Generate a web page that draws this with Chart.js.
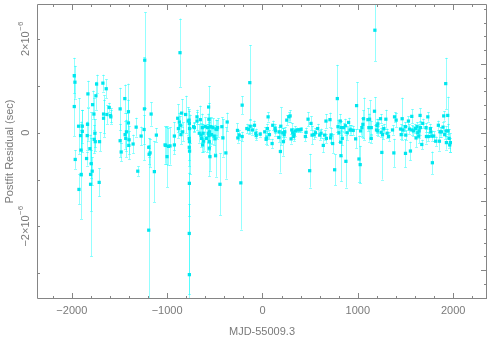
<!DOCTYPE html>
<html>
<head>
<meta charset="utf-8">
<script src="https://cdn.jsdelivr.net/npm/chart.js@4.4.0/dist/chart.umd.min.js"></script>
<style>
  html, body { margin: 0; padding: 0; background: #fff; }
  #wrap { width: 491px; height: 340px; }
</style>
</head>
<body>
<div id="wrap"><canvas id="plot"></canvas></div>
<script>
// Days relative to MJD 55009.3
const mjd = [
  -1974, -1967, -1974, -1964, -1929, -1925, -1908, -1904, -1901, -1890,
  -1890, -1845, -1838, -1835, -1831, -1810, -1803, -1803, -1796, -1786,
  -1782, -1768, -1765, -1758, -1754, -1747, -1740, -1709, -1713, -1674,
  -1667, -1667, -1639, -1632, -1608, -1594, -1591, -1493, -1493, -1482,
  -1444, -1441, -1434, -1427, -1406, -1406, -1402, -1399, -1357, -1325,
  -1308, -1273, -1242, -1235, -1238, -1193, -1189, -1179, -1193, -1168,
  -1134, -1113, -1022, -1015, -1001, -987, -970, -924, -924, -889,
  -882, -872, -865, -862, -855, -848, -837, -806, -778, -770,
  -767, -765, -769, -766, -768, -765, -767, -768, -767, -722,
  -715, -687, -687, -663, -652, -645, -638, -631, -628, -624,
  -617, -600, -586, -576, -569, -565, -562, -562, -558, -558,
  -555, -551, -544, -534, -520, -506, -499, -492, -488, -478,
  -471, -446, -426, -415, -384, -370, -262, -258, -244, -227,
  -213, -213, -164, -146, -133, -129, -105, -84, -70, -66,
  -24, 24, 38, 45, 52, 59, 73, 101, 108, 133,
  136, 171, 174, 188, 192, 213, 220, 227, 234, 255,
  276, 290, 300, 307, 317, 328, 331, 345, 363, 387,
  405, 450, 457, 478, 495, 509, 520, 541, 555, 579,
  600, 614, 638, 652, 666, 670, 708, 715, 719, 736,
  757, 785, 792, 802, 816, 820, 823, 827, 837, 851,
  869, 875, 889, 903, 917, 928, 952, 977, 987, 1012,
  1025, 1029, 1043, 1053, 1060, 1106, 1116, 1123, 1141, 1141,
  1175, 1179, 1196, 1200, 1207, 1210, 1238, 1245, 1252, 1259,
  1273, 1294, 1308, 1322, 1364, 1378, 1385, 1402, 1448, 1455,
  1465, 1475, 1500, 1500, 1503, 1531, 1542, 1552, 1566, 1566,
  1584, 1604, 1611, 1622, 1629, 1639, 1643, 1653, 1657, 1671,
  1681, 1716, 1720, 1734, 1740, 1761, 1765, 1775, 1782, 1796,
  1817, 1845, 1856, 1863, 1877, 1894, 1901, 1911, 1922, 1925,
  1929, 1943, 1946, 1957, 1964, 1971
];

// Postfit residuals, in units of 1e-6 s
const resid = [
  1.22, 1.08, 0.56, -0.57, 0.14, -1.21, -0.06, -0.37, -0.89, 0.14,
  0.03, -0.55, -0.06, 0.18, 0.83, -0.34, -1.10, -0.89, -0.66, -0.82,
  0.60, 0.40, -0.14, -0.01, -0.19, 0.79, 1.04, -0.19, -1.06, 1.06,
  0.31, 0.40, 0.94, 0.39, 0.54, 0.37, 0.34, 0.51, -0.17, -0.41,
  0.73, -0.04, -0.12, 0.02, 0.45, 0.21, -0.27, -0.15, -0.24, 0.12,
  -0.82, -0.07, 0.07, 1.55, 0.51, -0.31, -0.46, -0.43, -2.08, 0.40,
  -0.83, -0.05, -0.26, -0.27, -0.51, -0.29, -0.28, -0.07, -0.26, 0.31,
  0.09, 0.23, 1.71, 0.16, -0.04, 0.42, 0.02, 0.39, 0.25, 0.27,
  0.20, 0.09, -0.12, -0.19, -0.31, -0.39, -1.08, -2.15, -3.03, 0.13,
  0.11, 0.34, 0.25, -0.01, 0.28, -0.05, -0.12, 0.11, -0.26, -0.01,
  -0.18, 0.13, -0.12, 0.11, -0.01, 0.55, -0.06, 0.29, -0.19, -0.33,
  0.02, -0.51, 0.13, -0.04, 0.11, -0.07, -0.13, -0.49, 0.08, 0.07,
  0.11, -1.10, 0.13, -0.11, -0.43, 0.23, 0.05, -0.11, -0.05, -1.07,
  0.59, -0.08, 0.09, 0.07, 1.07, 0.14, 0.06, 0.16, -0.01, -0.06,
  -0.03, 0.02, -0.14, -0.11, 0.09, 0.34, -0.04, -0.23, 0.16, 0.09,
  0.04, -0.10, 0.02, -0.40, 0.14, 0.00, -0.19, -0.04, 0.02, 0.27,
  0.34, 0.36, -0.13, 0.06, 0.00, -0.08, -0.04, 0.04, 0.06, 0.06,
  0.07, -0.08, 0.01, 0.29, -0.81, 0.20, -0.05, -0.04, 0.00, 0.09,
  -0.05, -0.01, -0.27, -0.05, 0.25, -0.12, 0.28, -0.11, -0.05, -0.23,
  -0.79, 0.73, 0.13, 0.00, 0.25, -0.20, -0.49, 0.11, -0.12, 0.11,
  0.15, -0.61, 0.00, 0.22, 0.06, 0.06, 0.05, -0.13, 0.58, -0.56,
  -0.68, 0.04, 0.11, 0.18, 0.30, 0.28, 0.11, 0.29, 0.11, -0.12,
  0.46, 2.19, 0.06, 0.15, 0.04, 0.19, 0.30, 0.01, -0.42, -0.04,
  0.09, 0.29, -0.01, -0.08, 0.06, -0.43, 0.34, 0.27, 0.08, -0.04,
  0.30, 0.06, 0.13, -0.44, -0.05, 0.25, 0.08, -0.39, 0.06, 0.35,
  0.04, 0.09, -0.11, 0.13, 0.00, -0.07, 0.04, 0.37, 0.11, -0.25,
  0.20, 0.11, -0.08, 0.34, -0.08, 0.09, 0.02, -0.07, -0.64, -0.07,
  -0.18, 0.16, -0.18, 0.02, 0.02, 0.12, 0.36, -0.04, 1.05, 0.04,
  -0.21, 0.37, 0.04, -0.12, -0.26, -0.21
];

// 1-sigma uncertainties, in units of 1e-6 s
const sigma = [
  0.38, 0.35, 0.63, 0.20, 0.60, 0.32, 0.30, 0.55, 0.95, 0.35,
  0.45, 0.15, 0.30, 0.35, 0.28, 0.30, 1.54, 0.78, 0.30, 0.30,
  0.30, 0.35, 0.30, 0.30, 0.20, 0.30, 0.20, 0.20, 0.30, 0.18,
  0.40, 0.40, 0.20, 0.20, 0.10, 0.15, 0.15, 0.45, 0.35, 0.20,
  0.30, 0.30, 0.40, 0.40, 0.60, 0.50, 0.30, 0.30, 0.20, 0.20,
  0.10, 0.20, 0.30, 1.02, 1.10, 0.20, 0.20, 0.30, 1.75, 0.25,
  0.65, 0.15, 0.40, 0.40, 0.65, 0.40, 0.40, 0.30, 0.20, 0.30,
  0.20, 0.20, 0.73, 0.20, 0.20, 0.30, 0.20, 0.40, 0.30, 0.20,
  0.30, 0.30, 0.30, 0.40, 0.40, 0.50, 0.70, 1.30, 1.50, 0.10,
  0.10, 0.15, 0.20, 0.20, 0.30, 0.25, 0.30, 0.30, 0.15, 0.20,
  0.20, 0.20, 0.30, 0.30, 0.20, 0.45, 0.30, 0.35, 0.30, 0.60,
  0.30, 0.30, 0.20, 0.20, 0.20, 0.20, 0.30, 0.45, 0.20, 0.20,
  0.20, 0.66, 0.20, 0.40, 0.55, 0.20, 0.15, 0.10, 0.10, 1.00,
  0.19, 0.10, 0.10, 0.10, 0.80, 0.15, 0.10, 0.10, 0.10, 0.10,
  0.05, 0.10, 0.10, 0.15, 0.10, 0.10, 0.10, 0.10, 0.10, 0.10,
  0.10, 0.10, 0.10, 0.45, 0.40, 0.10, 0.30, 0.10, 0.10, 0.10,
  0.10, 0.12, 0.10, 0.15, 0.10, 0.10, 0.10, 0.10, 0.05, 0.05,
  0.05, 0.10, 0.10, 0.15, 0.36, 0.15, 0.20, 0.10, 0.10, 0.10,
  0.10, 0.10, 0.15, 0.10, 0.15, 0.10, 0.15, 0.10, 0.15, 0.20,
  0.33, 0.72, 0.15, 0.20, 0.15, 0.30, 0.55, 0.15, 0.15, 0.10,
  0.15, 0.56, 0.15, 0.10, 0.10, 0.10, 0.10, 0.20, 0.50, 0.50,
  0.40, 0.10, 0.20, 0.30, 0.45, 0.25, 0.30, 0.40, 0.15, 0.10,
  0.30, 0.66, 0.10, 0.15, 0.10, 0.10, 0.10, 0.10, 0.58, 0.10,
  0.10, 0.20, 0.10, 0.10, 0.10, 0.30, 0.10, 0.15, 0.10, 0.10,
  0.45, 0.10, 0.10, 0.30, 0.10, 0.10, 0.10, 0.20, 0.10, 0.15,
  0.10, 0.10, 0.20, 0.10, 0.10, 0.15, 0.15, 0.15, 0.15, 0.10,
  0.10, 0.10, 0.15, 0.10, 0.10, 0.10, 0.10, 0.10, 0.24, 0.10,
  0.10, 0.10, 0.20, 0.10, 0.10, 0.10, 0.10, 0.10, 0.55, 0.10,
  0.15, 0.40, 0.15, 0.20, 0.15, 0.20
];

const xTickLabels = [-2000, -1000, 0, 1000, 2000];
const yTickLabels = [2, 0, -2];

const AXIS_GREY = '#858585';
const TEXT_GREY = '#7a7a7a';
const FONT = '"Liberation Sans", Arial, sans-serif';

function minus(s) { return String(s).replace('-', '\u2212'); }

// vertical error bars with little caps, drawn under the points
const errorBars = {
  id: 'errorBars',
  beforeDatasetsDraw(chart) {
    const { ctx, chartArea: a, scales } = chart;
    const x = scales.x, y = scales.y;
    ctx.save();
    ctx.beginPath();
    ctx.rect(a.left, a.top, a.right - a.left, a.bottom - a.top);
    ctx.clip();
    ctx.strokeStyle = 'rgba(0, 255, 255, 0.42)';
    ctx.lineWidth = 1;
    ctx.beginPath();
    for (let i = 0; i < mjd.length; i++) {
      const px = Math.round(x.getPixelForValue(mjd[i])) + 0.5;
      const hi = y.getPixelForValue(resid[i] + sigma[i]);
      const lo = y.getPixelForValue(resid[i] - sigma[i]);
      ctx.moveTo(px, hi); ctx.lineTo(px, lo);
      ctx.moveTo(px - 1.5, Math.round(hi) + 0.5); ctx.lineTo(px + 1.5, Math.round(hi) + 0.5);
      ctx.moveTo(px - 1.5, Math.round(lo) + 0.5); ctx.lineTo(px + 1.5, Math.round(lo) + 0.5);
    }
    ctx.stroke();
    ctx.restore();
  }
};

// box, inward ticks and the rotated y labels (PGPLOT style)
const frame = {
  id: 'frame',
  afterDraw(chart) {
    const { ctx, chartArea: a, scales } = chart;
    const x = scales.x, y = scales.y, y2 = scales.y2;
    ctx.save();
    ctx.strokeStyle = AXIS_GREY;
    ctx.lineWidth = 1;
    ctx.beginPath();
    ctx.rect(a.left + 0.5, a.top + 0.5, a.right - a.left - 1, a.bottom - a.top - 1);
    for (let v = -2200; v <= 2200; v += 200) {
      const px = Math.round(x.getPixelForValue(v)) + 0.5;
      const len = v % 1000 === 0 ? 6 : 3;
      ctx.moveTo(px, a.bottom); ctx.lineTo(px, a.bottom - len);
      ctx.moveTo(px, a.top); ctx.lineTo(px, a.top + len);
    }
    for (let v = -3; v <= 2; v++) {
      const py = Math.round(y.getPixelForValue(v)) + 0.5;
      ctx.moveTo(a.left, py); ctx.lineTo(a.left + 3, py);
    }
    for (let k = Math.ceil(y2.min); k <= Math.floor(y2.max); k++) {
      const py = Math.round(y2.getPixelForValue(k)) + 0.5;
      const len = k % 5 === 0 ? 6 : 3;
      ctx.moveTo(a.right, py); ctx.lineTo(a.right - len, py);
    }
    ctx.stroke();

    // y tick labels, rotated to read bottom-to-top
    ctx.fillStyle = TEXT_GREY;
    ctx.textBaseline = 'middle';
    ctx.textAlign = 'left';
    yTickLabels.forEach(v => {
      const py = y.getPixelForValue(v);
      ctx.save();
      ctx.translate(26, py);
      ctx.rotate(-Math.PI / 2);
      if (v === 0) {
        ctx.font = '11px ' + FONT;
        ctx.textAlign = 'center';
        ctx.fillText('0', 0, 0);
      } else {
        const main = minus(v) + '\u00d710';
        const sup = '\u22126';
        ctx.font = '11px ' + FONT;
        const wm = ctx.measureText(main).width;
        ctx.font = '8px ' + FONT;
        const ws = ctx.measureText(sup).width;
        const start = -(wm + ws) / 2;
        ctx.font = '11px ' + FONT;
        ctx.fillText(main, start, 0);
        ctx.font = '8px ' + FONT;
        ctx.fillText(sup, start + wm + 0.5, -5);
      }
      ctx.restore();
    });
    ctx.restore();
  }
};

new Chart(document.getElementById('plot'), {
  type: 'scatter',
  data: {
    datasets: [{
      data: mjd.map((d, i) => ({ x: d, y: resid[i] })),
      pointStyle: 'rect',
      pointRadius: 2.3,
      pointBackgroundColor: '#00e6ee',
      pointBorderWidth: 0
    }]
  },
  options: {
    responsive: true,
    maintainAspectRatio: false,
    animation: false,
    devicePixelRatio: 1,
    layout: { padding: { top: 1, left: 0, right: 0, bottom: 0 } },
    plugins: { legend: { display: false }, tooltip: { enabled: false } },
    scales: {
      x: {
        type: 'linear',
        position: 'bottom',
        min: -2365,
        max: 2355,
        grid: { display: false },
        border: { display: false },
        ticks: {
          stepSize: 200,
          includeBounds: false,
          autoSkip: false,
          maxRotation: 0,
          padding: -3,
          color: TEXT_GREY,
          font: { family: FONT, size: 11 },
          callback: v => xTickLabels.includes(v) ? minus(v) : ''
        },
        title: {
          display: true,
          text: 'MJD-55009.3',
          color: TEXT_GREY,
          font: { family: FONT, size: 11 },
          padding: { top: 0, bottom: 1 }
        },
        afterFit(s) { s.height = 41; }
      },
      y: {
        type: 'linear',
        position: 'left',
        min: -3.55,
        max: 2.75,
        grid: { display: false },
        border: { display: false },
        ticks: { display: false, stepSize: 1, includeBounds: false },
        title: {
          display: true,
          text: 'Postfit Residual (sec)',
          color: TEXT_GREY,
          font: { family: FONT, size: 11 },
          padding: { top: 3, bottom: 0 }
        },
        afterFit(s) { s.width = 37; }
      },
      y2: {
        type: 'linear',
        position: 'right',
        min: -12.09,
        max: 9.35,
        grid: { display: false },
        border: { display: false },
        ticks: { display: false },
        afterFit(s) { s.width = 3; }
      }
    }
  },
  plugins: [errorBars, frame]
});
</script>
</body>
</html>
